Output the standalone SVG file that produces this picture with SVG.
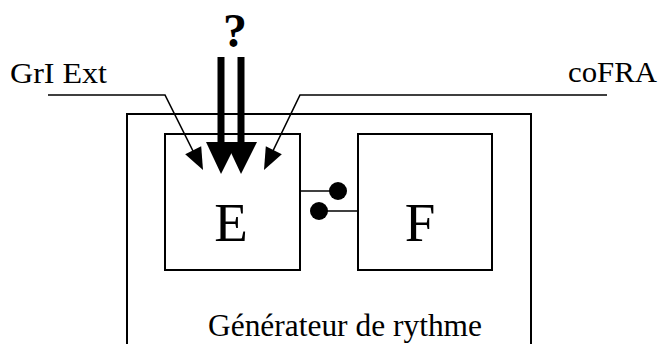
<svg xmlns="http://www.w3.org/2000/svg" width="662" height="344" viewBox="0 0 662 344">
<style>
.box{fill:none;stroke:#000;stroke-width:2}
.ln{fill:none;stroke:#000;stroke-width:1.6}
.t{font-family:"Liberation Serif","Times New Roman",serif;fill:#000}
</style>
<rect width="662" height="344" fill="#fff"/>
<g id="generateur">
<rect class="box" x="127" y="114" width="404" height="240"/>
<text class="t" x="208" y="336" font-size="31" textLength="274" lengthAdjust="spacingAndGlyphs">Générateur de rythme</text>
</g>
<g id="nodeE">
<rect class="box" x="165" y="134" width="135" height="136"/>
<text class="t" x="231" y="241" font-size="55" text-anchor="middle">E</text>
</g>
<g id="nodeF">
<rect class="box" x="358" y="134" width="134" height="136"/>
<text class="t" x="420" y="241" font-size="55" text-anchor="middle">F</text>
</g>
<g id="labels">
<text class="t" x="10" y="83" font-size="29" textLength="97" lengthAdjust="spacingAndGlyphs">GrI Ext</text>
<text class="t" x="568" y="82" font-size="29" textLength="89" lengthAdjust="spacingAndGlyphs">coFRA</text>
<text class="t" x="235" y="47" font-size="48" font-weight="bold" text-anchor="middle">?</text>
</g>
<g id="connectors">
<polyline class="ln" points="48,95 165,95 196,157"/>
<polygon points="203,170 201.2,146.3 185.2,154.3"/>
<polyline class="ln" points="607,95 300,95 270,157"/>
<polygon points="264,170 265.8,146.3 281.8,154.3"/>
<line x1="221" y1="57" x2="221" y2="145" stroke="#000" stroke-width="7"/>
<line x1="241" y1="57" x2="241" y2="145" stroke="#000" stroke-width="7"/>
<polygon points="206,142 237,142 221,174"/>
<polygon points="226,142 257,142 241,174"/>
<line class="ln" x1="300" y1="191" x2="338" y2="191"/>
<circle cx="338" cy="191" r="9"/>
<line class="ln" x1="319" y1="211" x2="358" y2="211"/>
<circle cx="319" cy="211" r="9"/>
</g>
</svg>
